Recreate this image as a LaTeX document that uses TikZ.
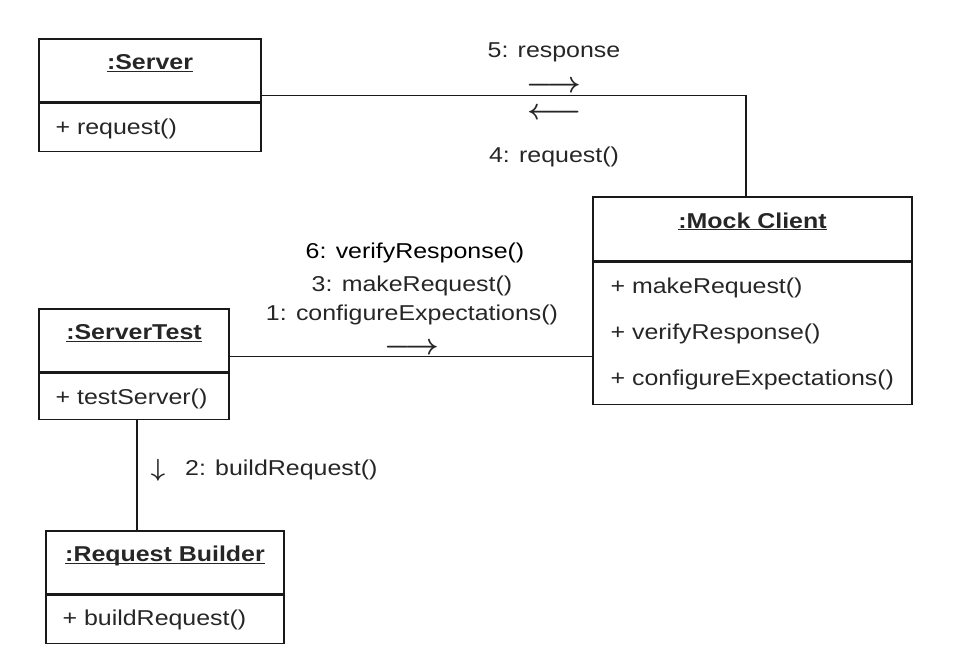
\documentclass[tikz,border=0pt]{standalone}
\usepackage{fontspec}
\setmainfont{Liberation Sans}[FakeStretch=1.16]
\usepackage{graphicx}
\usepackage{tikz}
\usetikzlibrary{shapes}
\newcommand\umlsize{\fontsize{21.5}{26}\selectfont}
\newcommand\objname[1]{\underline{\smash{#1}}}
\newcommand\msgdir[1]{\scalebox{1.18}{\raisebox{0pt}[0.42em][-0.08em]{$#1$}}}
\tikzstyle{objtitle}=[rectangle,
	line width=1.2pt,
	draw=black!90,
	minimum height=63pt,
	inner sep=0pt,
	text=black!85,
	font=\umlsize\bfseries]
\tikzstyle{objops}=[rectangle,
	line width=1.2pt,
	draw=black!90,
	anchor=north,
	inner sep=0pt]
\tikzstyle{op}=[anchor=base west,
	inner sep=0pt,
	text=black!85,
	font=\umlsize]
\tikzstyle{msg}=[anchor=base,
	inner sep=0pt,
	text=black!85,
	font=\umlsize]
\tikzstyle{dir}=[inner sep=0pt,
	text=black!85,
	font=\fontsize{24.88}{30}\selectfont\boldmath]
\tikzstyle{link}=[line width=1.2pt,
	draw=black!90]

\begin{document}
\begin{tikzpicture}[x=1pt,y=-1pt]
					\useasboundingbox (0,0) rectangle (954,669);
					\node (serverTitle) [objtitle, minimum width=222pt] at (150,70.5){\objname{:Server}};
					\node (serverOps) [objops, minimum width=222pt, minimum height=48pt] at (serverTitle.south){};
					\node (serverOp1) [op] at ([xshift=17pt,yshift=-32pt]serverOps.north west){+ request()};

					\node (mockTitle) [objtitle, minimum width=319pt, minimum height=64pt] at (752.5,229){\objname{:Mock Client}};
					\node (mockOps) [objops, minimum width=319pt, minimum height=142pt] at (mockTitle.south){};
					\node (mockOp1) [op] at ([xshift=18pt,yshift=-32pt]mockOps.north west){+ makeRequest()};
					\node (mockOp2) [op] at ([yshift=-46pt]mockOp1.base west){+ verifyResponse()};
					\node (mockOp3) [op] at ([yshift=-46pt]mockOp2.base west){+ configureExpectations()};

					\node (testTitle) [objtitle, minimum width=190pt] at (134,340.5){\objname{:ServerTest}};
					\node (testOps) [objops, minimum width=190pt, minimum height=46pt] at (testTitle.south){};
					\node (testOp1) [op] at ([xshift=17pt,yshift=-32pt]testOps.north west){+ testServer()};

					\node (builderTitle) [objtitle, minimum width=238pt] at (165,562.5){\objname{:Request Builder}};
					\node (builderOps) [objops, minimum width=238pt, minimum height=48pt] at (builderTitle.south){};
					\node (builderOp1) [op] at ([xshift=17pt,yshift=-31pt]builderOps.north west){+ buildRequest()};

					\coordinate (serverPort) at ([yshift=7pt]serverTitle.south east);
					\draw[link] (serverPort) -| ([xshift=-6.5pt]mockTitle.north);
					\coordinate (testPort) at ([yshift=16pt]testTitle.south east);
					\draw[link] (testPort) -- (testPort -| mockOps.west);
					\coordinate (builderPort) at ([xshift=3pt]testOps.south);
					\draw[link] (builderPort) -- (builderPort |- builderTitle.north);

					\node (msgResponse) [msg] at (554,58){5: response};
					\node (dirResponse) [dir] at (554,86){\msgdir{\longrightarrow}};
					\node (dirRequest) [dir] at (555,113){\msgdir{\longleftarrow}};
					\node (msgRequest) [msg] at (554,162){4: request()};

					\node (msgVerify) [msg, text=black] at (415,258){6: verifyResponse()};
					\node (msgMake) [msg] at (412,291){3: makeRequest()};
					\node (msgConfigure) [msg] at (412,320){1: configureExpectations()};
					\node (dirConfigure) [dir] at (412,348){\msgdir{\longrightarrow}};

					\node (dirBuild) [dir] at (158,470){$\downarrow$};
					\node (msgBuild) [msg, anchor=base west] at (185,475){2: buildRequest()};
				\end{tikzpicture}
\end{document}
